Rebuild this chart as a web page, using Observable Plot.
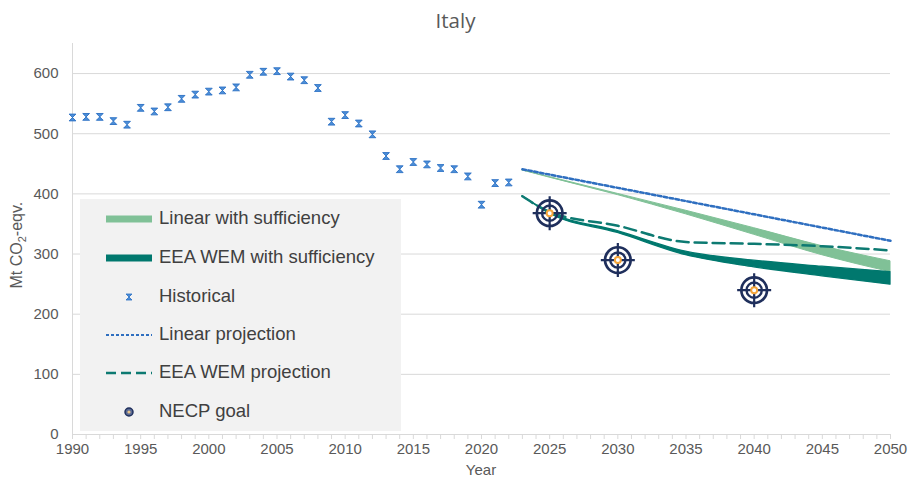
<!DOCTYPE html>
<html><head><meta charset="utf-8">
<script src="https://cdn.jsdelivr.net/npm/d3@7"></script>
<script src="https://cdn.jsdelivr.net/npm/@observablehq/plot@0.6"></script>
<style>
body{margin:0;background:#fff;}
#wrap{position:relative;width:911px;height:482px;overflow:hidden;font-family:"Liberation Sans",Arial,sans-serif;}
#title{position:absolute;left:0;top:6px;width:911px;text-align:center;font-family:"Open Sans",sans-serif;font-size:20.5px;color:#595959;}
#chart{position:absolute;left:0;top:40px;}
#xlabel{position:absolute;left:431px;width:100px;top:461px;text-align:center;font-size:15px;color:#595959;}
#ylabel{position:absolute;left:18px;top:245px;width:0;height:0;}
#ylabel div{position:absolute;left:-70px;top:-10px;width:140px;text-align:center;transform:rotate(-90deg);font-size:16px;color:#595959;white-space:nowrap;}
#legend{position:absolute;left:80px;top:199px;width:321px;height:232px;background:#f2f2f2;}
.row{position:absolute;left:0;height:30px;width:321px;}
.row svg{position:absolute;left:24px;top:5px;}
.row span{position:absolute;left:79px;top:3px;font-size:18.5px;color:#404040;white-space:nowrap;}
</style></head>
<body>
<div id="wrap">
  <div id="title">Italy</div>
  <div id="chart"></div>
  <div id="xlabel">Year</div>
  <div id="ylabel"><div>Mt CO<sub style="font-size:11px">2</sub>-eqv.</div></div>
  <div id="legend"></div>
</div>
<script>
// ---- data ----
const histYears = d3.range(1990, 2023);
const histValues = [527,528,528,521,515,543,537,544,558,565,570,572,577,598,603,604,595,589,576,520,531,517,499,463,441,453,449,443,441,429,382,418,419];

const projYears = [2023, 2025, 2030, 2035, 2040, 2045, 2050];
const linearProjection = [441, 432, 410, 388, 366, 344, 322];
const eeaWemProjection = [396, 370, 347, 320, 317, 313, 306];
const linSuffHigh = [439, 428, 400, 372, 343, 313, 288];
const linSuffLow  = [439, 427, 398, 366, 332, 298, 270];
const eeaSuffHigh = [396, 369, 338, 304, 289, 279, 270];
const eeaSuffLow  = [396, 367, 335, 298, 278, 263, 249];

const necpYears = [2025, 2030, 2040];
const necpValues = [368, 290, 240];

const yTicks = [0, 100, 200, 300, 400, 500, 600];
const xTicks = d3.range(1990, 2051);

const seriesNames = ["Linear with sufficiency", "EEA WEM with sufficiency", "Historical", "Linear projection", "EEA WEM projection", "NECP goal"];

// ---- colors ----
const cLight = "#80c197", cDark = "#00786e", cBlue = "#2f6fc0", cDash = "#0d7a72";
const cHist = "#4d8fd8", cHistStroke = "#2a6fc4", cNavy = "#1f2f5c", cOrange = "#f5a53a";

const hist = histYears.map((y, i) => ({year: y, value: histValues[i]}));
const proj = projYears.map((y, i) => ({
  year: y, lin: linearProjection[i], eea: eeaWemProjection[i],
  lh: linSuffHigh[i], ll: linSuffLow[i], eh: eeaSuffHigh[i], el: eeaSuffLow[i]
}));
const necp = necpYears.map((y, i) => ({year: y, value: necpValues[i]}));

const hourglass = {draw(ctx, size) {
  const s = Math.sqrt(size / Math.PI);
  ctx.moveTo(-s, -s); ctx.lineTo(s, -s); ctx.lineTo(-s, s); ctx.lineTo(s, s); ctx.closePath();
}};
const cross = {draw(ctx, size) {
  const r = Math.sqrt(size / Math.PI);
  ctx.moveTo(-r, 0); ctx.lineTo(r, 0); ctx.moveTo(0, -r); ctx.lineTo(0, r);
}};

const chart = Plot.plot({
  width: 911, height: 442,
  marginLeft: 72, marginRight: 21, marginTop: 3, marginBottom: 48,
  style: {fontFamily: "'Liberation Sans', Arial, sans-serif", fontSize: "15px", color: "#595959", background: "transparent"},
  x: {domain: [1990, 2050]},
  y: {domain: [0, 650]},
  marks: [
    Plot.gridY(yTicks.filter(d => d > 0), {stroke: "#d9d9d9", strokeOpacity: 1, strokeWidth: 1}),
    Plot.ruleX([1990], {y1: 0, y2: 650, stroke: "#d9d9d9"}),
    Plot.ruleY([0], {stroke: "#d9d9d9"}),
    Plot.axisY({ticks: yTicks, tickSize: 0, tickPadding: 14, label: null, fill: "#595959"}),
    Plot.axisX({ticks: xTicks, tickFormat: d => d % 5 === 0 ? String(d) : "", tickSize: 5, tickPadding: 4, stroke: "#d9d9d9", fill: "#595959", label: null}),
    Plot.areaY(proj, {x: "year", y1: "ll", y2: "lh", fill: cLight, stroke: cLight, strokeWidth: 1, curve: "monotone-x"}),
    Plot.areaY(proj, {x: "year", y1: "el", y2: "eh", fill: cDark, stroke: cDark, strokeWidth: 1.3, curve: "monotone-x"}),
    Plot.line(proj, {x: "year", y: "lin", stroke: cBlue, strokeWidth: 2.5, strokeDasharray: "3.5,2.5"}),
    Plot.line(proj, {x: "year", y: "eea", stroke: cDash, strokeWidth: 2.5, strokeDasharray: "12,6", curve: "monotone-x"}),
    Plot.dot(hist, {x: "year", y: "value", symbol: hourglass, r: 3.4, fill: cHist, stroke: cHistStroke, strokeWidth: 0.9}),
    Plot.dot(necp, {x: "year", y: "value", symbol: cross, r: 17, stroke: cNavy, strokeWidth: 2.2}),
    Plot.dot(necp, {x: "year", y: "value", r: 12.8, stroke: cNavy, strokeWidth: 2.7, fill: "none"}),
    Plot.dot(necp, {x: "year", y: "value", r: 7.6, stroke: cNavy, strokeWidth: 2.4, fill: "none"}),
    Plot.dot(necp, {x: "year", y: "value", r: 3, stroke: cOrange, strokeWidth: 2, fill: "#fff"})
  ]
});
document.getElementById("chart").appendChild(chart);

// ---- legend ----
const sym = [
  `<svg width="50" height="20"><rect x="2" y="6.5" width="46" height="7" fill="${cLight}"/></svg>`,
  `<svg width="50" height="20"><rect x="2" y="6.5" width="46" height="7" fill="${cDark}"/></svg>`,
  `<svg width="50" height="20"><path d="M22,7 L28,7 L22,13 L28,13 Z" fill="${cHist}" stroke="${cHistStroke}" stroke-width="0.8"/></svg>`,
  `<svg width="50" height="20"><line x1="2" x2="48" y1="10" y2="10" stroke="${cBlue}" stroke-width="2" stroke-dasharray="3,2"/></svg>`,
  `<svg width="50" height="20"><line x1="2" x2="48" y1="10" y2="10" stroke="${cDash}" stroke-width="2.5" stroke-dasharray="10,5"/></svg>`,
  `<svg width="50" height="20"><circle cx="25" cy="10" r="4" fill="#5a6a94" stroke="${cNavy}" stroke-width="1.5"/><circle cx="25" cy="10" r="1.6" fill="#e9c48a"/></svg>`
];
const rowCenters = [20, 59, 97.5, 136, 174, 212.5];
const legend = document.getElementById("legend");
seriesNames.forEach((name, i) => {
  const row = document.createElement("div");
  row.className = "row";
  row.style.top = (rowCenters[i] - 15) + "px";
  row.innerHTML = sym[i] + `<span>${name}</span>`;
  legend.appendChild(row);
});
</script>
</body></html>
